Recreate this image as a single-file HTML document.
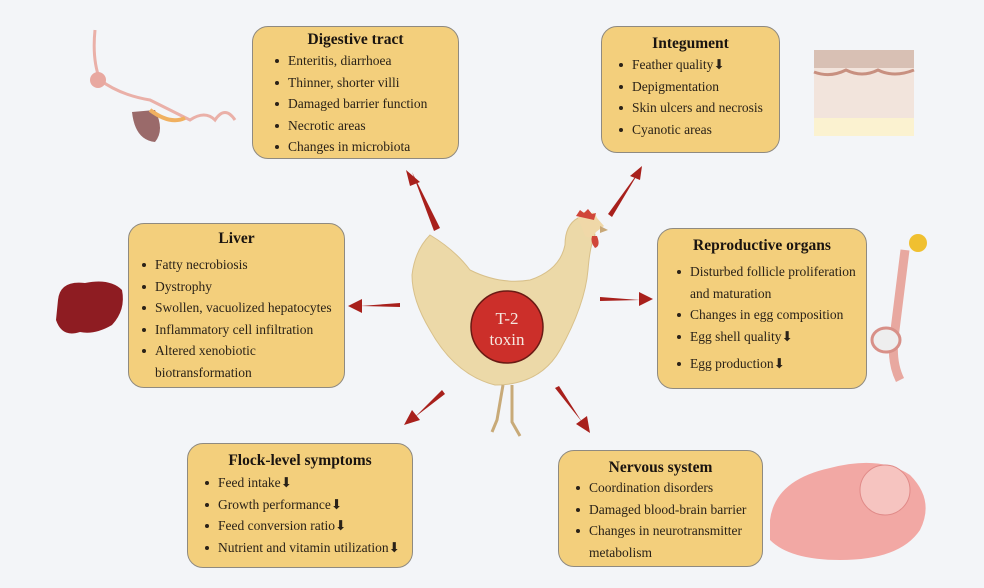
<!DOCTYPE html>
<html><head><meta charset="utf-8"><style>
body{margin:0;width:984px;height:588px;background:#f3f5f8;position:relative;overflow:hidden;font-family:"Liberation Serif",serif;color:#2a2218}
.b{position:absolute;background:#f3cf7c;border:1.5px solid #8f8a80;border-radius:16px;box-sizing:border-box;font-size:13.5px}
.b h3{margin:0;text-align:center;font-size:15.5px;font-weight:bold;color:#1a1410}
.b ul{margin:0;padding:0 0 0 30px;list-style:none}
.b li{position:relative;line-height:21.5px;white-space:nowrap}
.b li:before{content:"";position:absolute;left:-13px;top:9px;width:4px;height:4px;border-radius:50%;background:#2a2218}
svg{position:absolute;left:0;top:0}
</style></head><body>
<svg width="984" height="588">
<g fill="#ecd9a8" stroke="#d8c08a" stroke-width="1">
<path d="M430 235 Q415 250 412 275 Q412 300 430 330 Q455 375 495 385 Q540 385 560 350 Q585 305 588 270 Q590 245 595 235 Q590 215 578 218 Q565 225 565 245 Q560 270 530 280 Q500 285 470 270 Q455 250 430 235Z"/>
</g>
<path d="M578 218 Q584 208 590 214 Q594 210 597 218 L604 226 L596 232 Q592 240 585 236Z" fill="#f0d8a8"/>
<path d="M576 216 L580 210 L584 213 L588 209 L592 214 L596 213 L594 220 Z" fill="#d0463a"/>
<path d="M597 236 Q601 246 595 248 Q590 242 592 236Z" fill="#d0463a"/>
<path d="M600 226 L608 230 L600 233Z" fill="#c8a878"/>
<g stroke="#c8aa78" stroke-width="3" fill="none"><path d="M503 385 L497 420 L492 432"/><path d="M512 385 L512 422 L520 436"/></g>
<circle cx="507" cy="327" r="36" fill="#cc2f2a" stroke="#6a1a14" stroke-width="1.5"/>
<text x="507" y="324" text-anchor="middle" font-family="Liberation Serif" font-size="17" fill="#f5e8e0">T-2</text>
<text x="507" y="345" text-anchor="middle" font-family="Liberation Serif" font-size="17" fill="#f5e8e0">toxin</text>
<g fill="#a8201c">
<path d="M440 228 L434 231 L412 172 Z"/>
<path d="M406 170 L420 182 L410 186Z"/>
<path d="M608 214 L612 217 L640 170 Z"/><path d="M642 166 L630 176 L640 180Z"/>
<path d="M400 303 L400 307 L360 306Z"/><path d="M348 306 L362 299 L362 313Z"/>
<path d="M600 297 L600 301 L640 300Z"/><path d="M653 299 L639 292 L639 306Z"/>
<path d="M442 390 L445 394 L415 417Z"/><path d="M404 425 L412 410 L420 420Z"/>
<path d="M555 388 L559 386 L582 422Z"/><path d="M590 433 L576 424 L587 416Z"/>
</g>
<g fill="none" stroke="#eab0a8" stroke-width="3"><path d="M95 30 Q92 60 100 80 Q120 95 150 100 Q170 110 190 120 Q205 110 215 120 Q225 105 235 120"/></g>
<circle cx="98" cy="80" r="8" fill="#e8a8a0"/>
<path d="M132 112 Q135 140 155 142 Q165 130 155 110Z" fill="#9a6a6a"/>
<path d="M150 110 Q170 125 185 118" stroke="#f0b060" stroke-width="4" fill="none"/>
<rect x="814" y="50" width="100" height="86" fill="#f2e4dc"/>
<rect x="814" y="50" width="100" height="18" fill="#d8c0b4"/>
<path d="M814 72 Q830 78 846 70 Q862 78 878 70 Q894 78 914 70" stroke="#c89080" stroke-width="3" fill="none"/>
<rect x="814" y="118" width="100" height="18" fill="#fbf2d0"/>
<path d="M58 300 Q60 280 85 283 Q110 278 122 290 Q126 310 112 325 Q95 335 80 332 Q62 338 56 320Z" fill="#8e1c22"/>
<circle cx="918" cy="243" r="9" fill="#f0c030"/>
<path d="M905 250 Q900 290 895 330 Q890 360 900 380" stroke="#e8a8a0" stroke-width="9" fill="none"/>
<ellipse cx="886" cy="340" rx="14" ry="12" fill="#eee" stroke="#d89088" stroke-width="3"/>
<path d="M770 520 Q775 480 830 468 Q880 455 910 475 Q935 500 920 530 Q900 560 840 560 Q790 560 770 540Z" fill="#f2a8a4"/>
<circle cx="885" cy="490" r="25" fill="#f6c4c0" stroke="#e08a88"/>
</svg>

<div class="b" style="left:252px;top:26px;width:207px;height:133px;padding-top:4px"><h3>Digestive tract</h3><ul style="margin-top:1px;padding-left:35px">
<li>Enteritis, diarrhoea</li><li>Thinner, shorter villi</li><li>Damaged barrier function</li><li>Necrotic areas</li><li>Changes in microbiota</li></ul></div>

<div class="b" style="left:601px;top:26px;width:179px;height:127px;padding-top:8px"><h3>Integument</h3><ul style="margin-top:1px">
<li>Feather quality⬇</li><li>Depigmentation</li><li>Skin ulcers and necrosis</li><li>Cyanotic areas</li></ul></div>

<div class="b" style="left:128px;top:223px;width:217px;height:165px;padding-top:6px"><h3>Liver</h3><ul style="margin-top:6px;padding-left:26px">
<li>Fatty necrobiosis</li><li>Dystrophy</li><li>Swollen, vacuolized hepatocytes</li><li>Inflammatory cell infiltration</li><li>Altered xenobiotic<br>biotransformation</li></ul></div>

<div class="b" style="left:657px;top:228px;width:210px;height:161px;padding-top:8px"><h3>Reproductive organs</h3><ul style="margin-top:6px;padding-left:32px">
<li>Disturbed follicle proliferation<br>and maturation</li><li>Changes in egg composition</li><li>Egg shell quality⬇</li><li style="margin-top:6px">Egg production⬇</li></ul></div>

<div class="b" style="left:187px;top:443px;width:226px;height:125px;padding-top:8px"><h3>Flock-level symptoms</h3><ul style="margin-top:2px">
<li>Feed intake⬇</li><li>Growth performance⬇</li><li>Feed conversion ratio⬇</li><li>Nutrient and vitamin utilization⬇</li></ul></div>

<div class="b" style="left:558px;top:450px;width:205px;height:117px;padding-top:8px"><h3>Nervous system</h3><ul style="margin-top:0px">
<li>Coordination disorders</li><li>Damaged blood-brain barrier</li><li>Changes in neurotransmitter<br>metabolism</li></ul></div>
</body></html>
